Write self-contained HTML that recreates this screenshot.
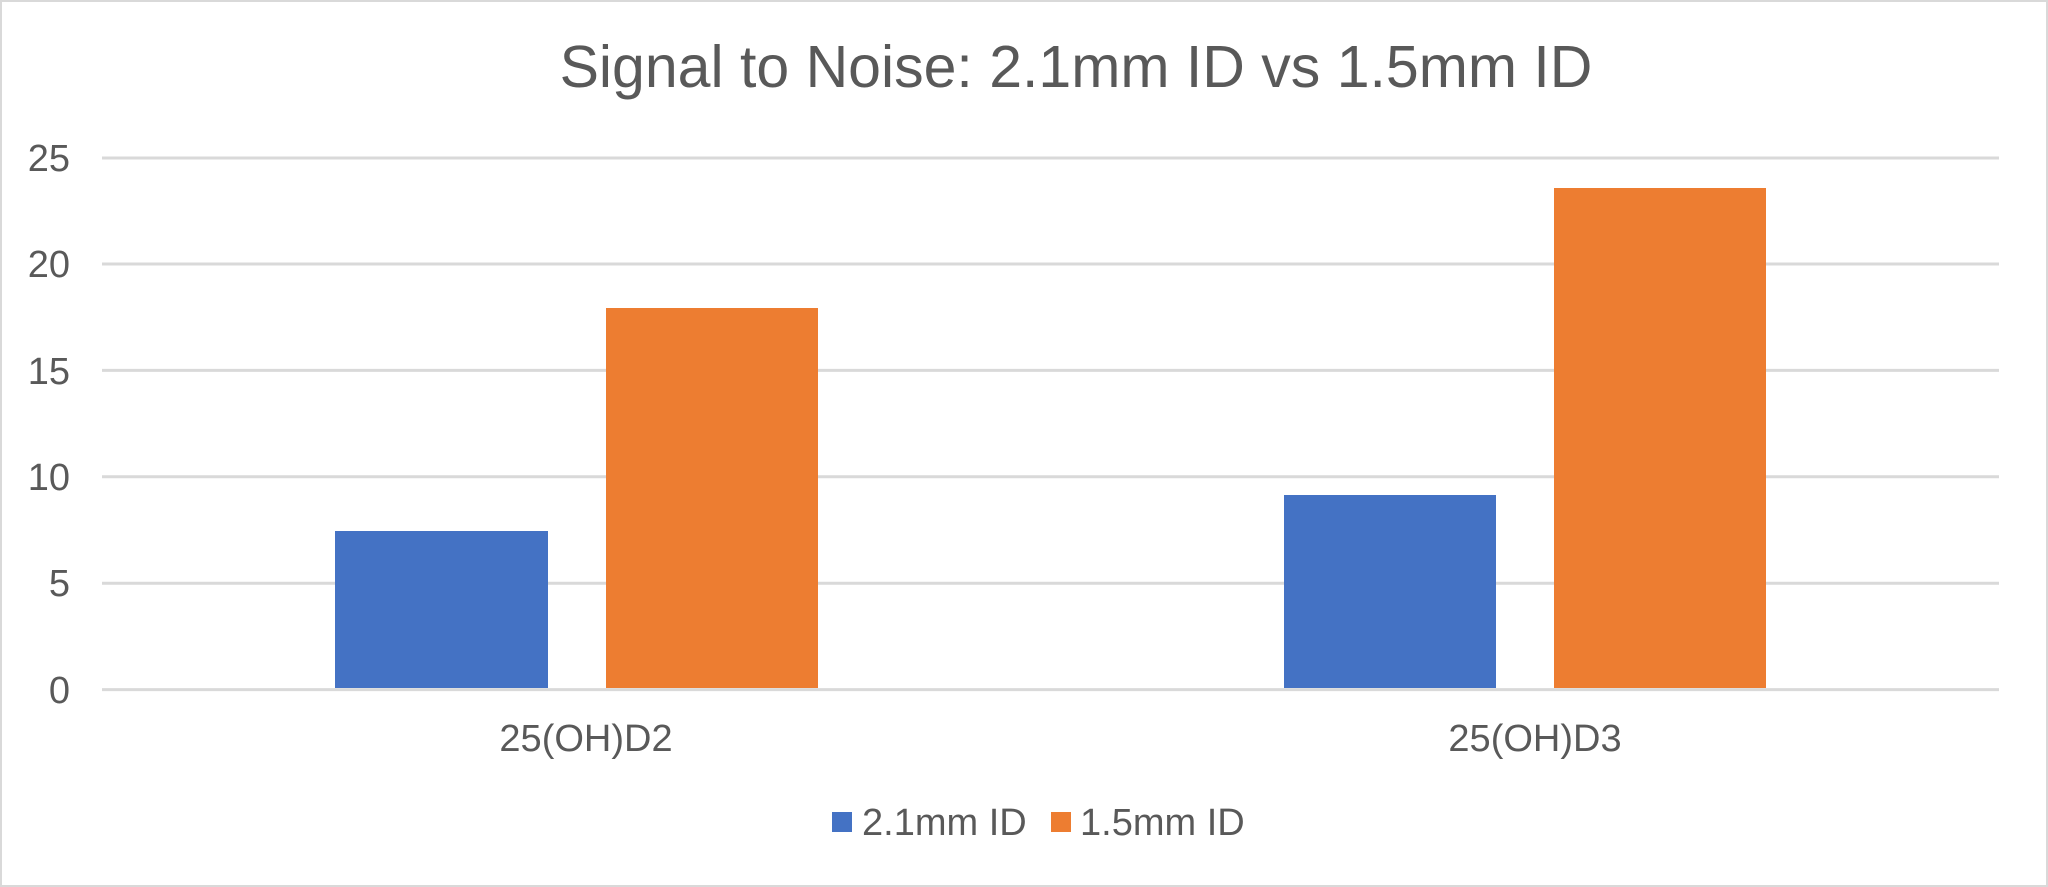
<!DOCTYPE html>
<html><head><style>
html,body{margin:0;padding:0;background:#fff}
svg{display:block}
text{font-family:"Liberation Sans",Arial,sans-serif;fill:#595959}
</style></head><body>
<svg width="2048" height="887" viewBox="0 0 2048 887" xmlns="http://www.w3.org/2000/svg">
<rect x="1" y="1" width="2046" height="885" fill="#fff" stroke="#d9d9d9" stroke-width="2"/>
<text x="1076" y="87" font-size="59" text-anchor="middle">Signal to Noise: 2.1mm ID vs 1.5mm ID</text>
<g stroke="#d9d9d9" stroke-width="3">
<line x1="102" x2="1999" y1="158" y2="158"/>
<line x1="102" x2="1999" y1="264" y2="264"/>
<line x1="102" x2="1999" y1="370.4" y2="370.4"/>
<line x1="102" x2="1999" y1="476.7" y2="476.7"/>
<line x1="102" x2="1999" y1="583.2" y2="583.2"/>
<line x1="102" x2="1999" y1="689.6" y2="689.6"/>
</g>
<g font-size="38" text-anchor="end">
<text x="70" y="171">25</text>
<text x="70" y="277">20</text>
<text x="70" y="384">15</text>
<text x="70" y="490">10</text>
<text x="70" y="596">5</text>
<text x="70" y="703">0</text>
</g>
<rect x="335" y="531" width="213" height="157" fill="#4472c4"/>
<rect x="606" y="308" width="212" height="380" fill="#ed7d31"/>
<rect x="1284" y="495" width="212" height="193" fill="#4472c4"/>
<rect x="1554" y="188" width="212" height="500" fill="#ed7d31"/>
<g font-size="38" text-anchor="middle">
<text x="586" y="751">25(OH)D2</text>
<text x="1535" y="751">25(OH)D3</text>
</g>
<rect x="832" y="812" width="20" height="20" fill="#4472c4"/>
<text x="862" y="835" font-size="38">2.1mm ID</text>
<rect x="1051" y="812" width="20" height="20" fill="#ed7d31"/>
<text x="1080" y="835" font-size="38">1.5mm ID</text>
</svg>
</body></html>
